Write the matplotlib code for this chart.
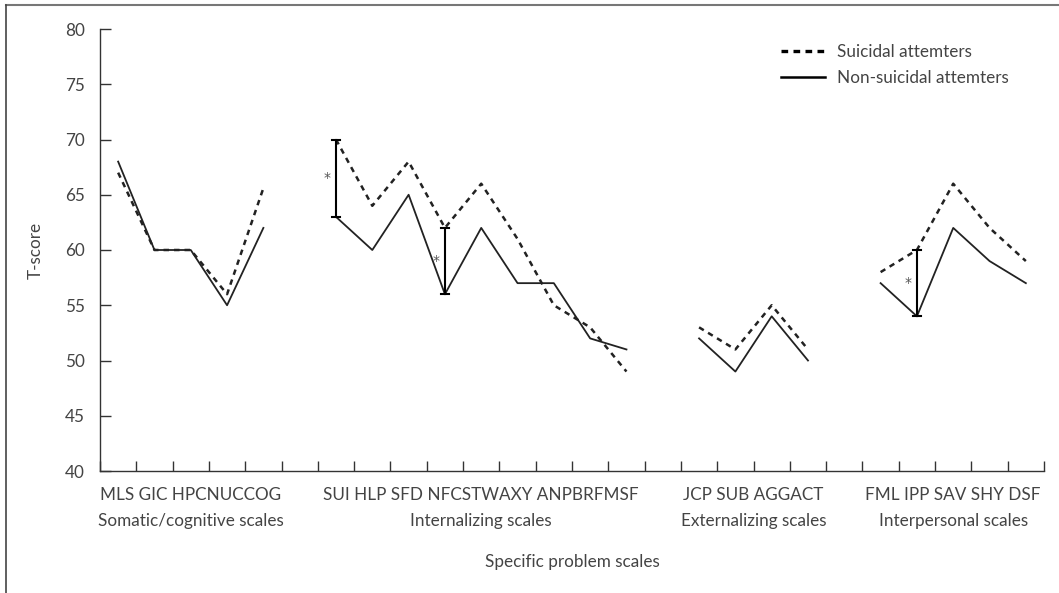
import numpy as np
import matplotlib.pyplot as plt
from matplotlib.lines import Line2D

plt.rcParams['font.family'] = ['Lato', 'DejaVu Sans']

# group layout: scale codes per group
groups = ["Somatic/cognitive scales", "Internalizing scales",
          "Externalizing scales", "Interpersonal scales"]
group_labels = ["MLS GIC HPCNUCCOG", "SUI HLP SFD NFCSTWAXY ANPBRFMSF",
                "JCP SUB AGGACT", "FML IPP SAV SHY DSF"]
group_start = [0, 6, 16, 21]  # first category slot for each group

# T-scores per group
suicidal = [
    [67, 60, 60, 56, 65.6],
    [70, 64, 68, 62, 66, 61, 55, 53, 49],
    [53, 51, 55, 51],
    [58, 60, 66, 62, 59],
]
non_suicidal = [
    [68, 60, 60, 55, 62],
    [63, 60, 65, 56, 62, 57, 57, 52, 51],
    [52, 49, 54, 50],
    [57, 54, 62, 59, 57],
]
# significant differences: (group, index within group)
signif = [(1, 0), (1, 3), (3, 1)]

n_slots = 26
line_col = "#222222"
text_col = "#444444"
fs = 12.3

fig = plt.figure(figsize=(10.59, 5.93), dpi=100)
ax = fig.add_axes([100 / 1059, 1 - 471 / 593, (1044 - 100) / 1059, (471 - 29) / 593])

for g in range(len(groups)):
    xs = group_start[g] + np.arange(len(suicidal[g])) + 0.5
    ax.plot(xs, suicidal[g], color=line_col, lw=1.8, ls=(0, (2.2, 2.0)))
    ax.plot(xs, non_suicidal[g], color=line_col, lw=1.3)

for g, i in signif:
    x = group_start[g] + i + 0.5
    lo, hi = non_suicidal[g][i], suicidal[g][i]
    ax.plot([x, x], [lo, hi], color="black", lw=1.5)
    ax.plot([x - 0.12, x + 0.12], [lo, lo], color="black", lw=1.5)
    ax.plot([x - 0.12, x + 0.12], [hi, hi], color="black", lw=1.5)
    ax.text(x - 0.25, (lo + hi) / 2, "*", ha="center", va="center",
            fontsize=10, color="#555555", family="DejaVu Sans")

ax.set_xlim(0, n_slots)
ax.set_ylim(40, 80)
ax.set_yticks(np.arange(40, 81, 5))
ax.set_xticks(np.arange(0, n_slots + 1))
ax.set_xticklabels([])
ax.tick_params(axis="both", direction="in", length=8, width=1, color="#333333",
               labelsize=fs, labelcolor=text_col, pad=11)
ax.tick_params(axis="x", length=7)
for s in ["top", "right"]:
    ax.spines[s].set_visible(False)
for s in ["left", "bottom"]:
    ax.spines[s].set_color("#333333")
    ax.spines[s].set_linewidth(1)

ax.set_ylabel("T-score", fontsize=fs, color=text_col, labelpad=15)

for g in range(len(groups)):
    center = group_start[g] + len(suicidal[g]) / 2
    ax.text(center, -0.055, group_labels[g], transform=ax.get_xaxis_transform(),
            ha="center", va="center", fontsize=fs, color=text_col)
    ax.text(center, -0.113, groups[g], transform=ax.get_xaxis_transform(),
            ha="center", va="center", fontsize=fs, color=text_col)
ax.text(0.5, -0.205, "Specific problem scales", transform=ax.transAxes,
        ha="center", va="center", fontsize=fs, color=text_col)

handles = [Line2D([], [], color="black", lw=2.4, ls=(0, (2.0, 1.6))),
           Line2D([], [], color="black", lw=1.8)]
ax.legend(handles, ["Suicidal attemters", "Non-suicidal attemters"],
          loc="upper left", bbox_to_anchor=(0.705, 1.0), frameon=False,
          fontsize=fs, handlelength=2.6, handletextpad=0.7,
          labelcolor=text_col, labelspacing=0.55)

# outer frame: top and left only
fig.add_artist(Line2D([6 / 1059, 1], [1 - 4.5 / 593, 1 - 4.5 / 593],
                      transform=fig.transFigure, color="#777777", lw=1.5))
fig.add_artist(Line2D([6 / 1059, 6 / 1059], [0, 1 - 4.5 / 593],
                      transform=fig.transFigure, color="#444444", lw=1.2))

fig.savefig("out.png", dpi=100)
